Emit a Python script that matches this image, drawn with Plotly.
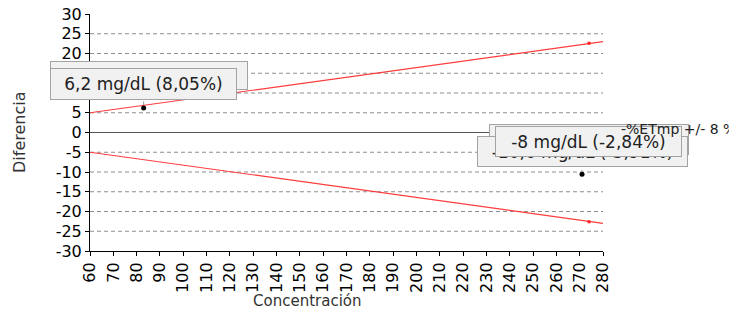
import plotly.graph_objects as go

# ---------------- data ----------------
conc_limits = [60, 280]
upper_limit = [5.0, 23.0]
lower_limit = [-5.0, -23.0]

limit_marker_x = [274]
limit_marker_upper = [22.6]
limit_marker_lower = [-22.6]

points_x = [83, 271]
points_y = [6.2, -10.6]

grid_values = [25, 20, 15, 10, 5, -5, -10, -15, -20, -25]

y_ticks = [-30, -25, -20, -15, -10, -5, 0, 5, 10, 15, 20, 25, 30]
y_ticklabels = ["-30", "-25", "-20", "-15", "-10", "-5", "0", "5", "10", "15", "20", "25", "30"]
x_ticks = list(range(60, 290, 10))
x_ticklabels = [str(v) for v in x_ticks]

label_upper = "6,2 mg/dL (8,05%)"
label_upper_back = "6,2 mg/dL (8,05%)"
label_lower = "-8 mg/dL (-2,84%)"
label_lower_back = "-10,6 mg/dL (-3,91%)"
legend_text = "-%ETmp +/- 8 %"
x_title = "Concentración"
y_title = "Diferencia"

# ---------------- layout helpers ----------------
W, H = 729, 313
L, R, T, B = 90, 126, 14, 62
PW, PH = W - L - R, H - T - B

def px(p):
    return (p - L) / PW

def py(p):
    return (H - B - p) / PH

FONT = "DejaVu Sans"
BOX_BG = "#f1f1f1"
BOX_BORDER = "#a3a3a3"

fig = go.Figure()

fig.add_trace(go.Scatter(x=conc_limits, y=upper_limit, mode="lines",
                         line=dict(color="#ff3c3c", width=1.2), hoverinfo="skip"))
fig.add_trace(go.Scatter(x=conc_limits, y=lower_limit, mode="lines",
                         line=dict(color="#ff3c3c", width=1.2), hoverinfo="skip"))
fig.add_trace(go.Scatter(x=limit_marker_x + limit_marker_x,
                         y=limit_marker_upper + limit_marker_lower, mode="markers",
                         marker=dict(color="#ff2020", size=3, symbol="square")))
fig.add_trace(go.Scatter(x=points_x, y=points_y, mode="markers",
                         marker=dict(color="black", size=5)))

shapes = []
for g in grid_values:
    shapes.append(dict(type="line", xref="paper", yref="y", x0=0, x1=1, y0=g, y1=g,
                       line=dict(color="#8e8e8e", width=1, dash="4px,3px"), layer="below"))
shapes.append(dict(type="line", xref="paper", yref="y", x0=0, x1=1, y0=0, y1=0,
                   line=dict(color="#555555", width=1), layer="below"))

def box(cx, cy, w, h, text, size=17):
    return dict(xref="paper", yref="paper", x=px(cx), y=py(cy), xanchor="center",
                yanchor="middle", text=text, showarrow=False, width=w - 2, height=h - 2,
                bgcolor=BOX_BG, bordercolor=BOX_BORDER, borderwidth=1, borderpad=0,
                font=dict(family=FONT, size=size, color="#222222"))

def pointer(xv, yv, ay):
    return dict(xref="x", yref="y", x=xv, y=yv, ax=0, ay=ay, text="", showarrow=True,
                arrowhead=0, arrowwidth=1, arrowcolor="#9a9a9a", standoff=3)

annotations = [
    # upper tooltips
    box(149, 75.5, 198, 29, label_upper_back),
    box(143.5, 84, 187, 32, label_upper),
    pointer(points_x[0], points_y[0], -8),
    # lower tooltips
    box(588.5, 139.5, 200, 31, ""),
    box(582.5, 151, 211, 31, label_lower_back),
    pointer(points_x[1], points_y[1], -6),
    box(588.5, 141.5, 187, 31, label_lower),
    # legend (clipped at right edge)
    dict(xref="paper", yref="paper", x=px(619), y=py(129), xanchor="left", yanchor="middle",
         text=legend_text, showarrow=False,
         font=dict(family=FONT, size=14, color="#222222")),
    # axis titles
    dict(xref="paper", yref="paper", x=px(306.7), y=py(301), xanchor="center", yanchor="middle",
         text=x_title, showarrow=False, font=dict(family=FONT, size=15, color="#333333")),
    dict(xref="paper", yref="paper", x=px(19), y=py(132), xanchor="center", yanchor="middle",
         text=y_title, textangle=-90, showarrow=False,
         font=dict(family=FONT, size=16, color="#333333")),
]

fig.update_layout(
    width=W, height=H,
    margin=dict(l=L, r=R, t=T, b=B, pad=0, autoexpand=False),
    paper_bgcolor="white", plot_bgcolor="white",
    showlegend=False,
    shapes=shapes,
    annotations=annotations,
    xaxis=dict(range=[60, 280], tickvals=x_ticks, ticktext=x_ticklabels, tickangle=-90,
               automargin=False,
               showgrid=False, zeroline=False, showline=True, linecolor="black", linewidth=1,
               ticks="outside", ticklen=4, tickcolor="black",
               tickfont=dict(family=FONT, size=16, color="black")),
    yaxis=dict(range=[-30, 30], tickvals=y_ticks, ticktext=y_ticklabels, automargin=False,
               showgrid=False, zeroline=False, showline=True, linecolor="black", linewidth=1,
               ticks="outside", ticklen=4, tickcolor="black",
               tickfont=dict(family=FONT, size=16, color="black")),
)

fig.write_html("out.html", config={"displayModeBar": False})

# remove the default page margin so the figure sits at the window's top-left corner
with open("out.html", "r", encoding="utf-8") as f:
    html = f.read()
html = html.replace("<head>", "<head><style>html,body{margin:0;padding:0;overflow:hidden;}</style>", 1)
with open("out.html", "w", encoding="utf-8") as f:
    f.write(html)
